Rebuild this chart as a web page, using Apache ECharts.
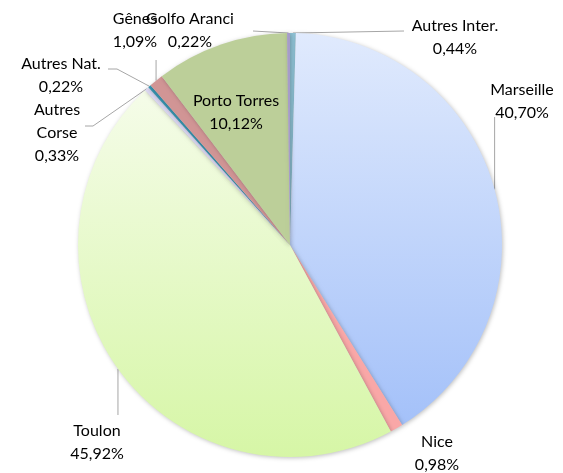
<!DOCTYPE html>
<html>
<head>
<meta charset="utf-8">
<script src="https://cdn.jsdelivr.net/npm/echarts@6/dist/echarts.min.js"></script>
<style>html,body{margin:0;padding:0;background:#fff;}#c{width:563px;height:473px;}</style>
</head>
<body>
<div id="c"></div>
<script>
const categories = ['Autres Inter.', 'Marseille', 'Nice', 'Toulon', 'Autres\nCorse', 'Autres Nat.', 'Gênes', 'Porto Torres', 'Golfo Aranci'];
const values = [0.44, 40.70, 0.98, 45.92, 0.33, 0.22, 1.09, 10.12, 0.22];
const valueLabels = ['0,44%', '40,70%', '0,98%', '45,92%', '0,33%', '0,22%', '1,09%', '10,12%', '0,22%'];

const colors = [
  '#8fc3d6',
  {type:'linear', x:0, y:0, x2:0, y2:1, colorStops:[{offset:0, color:'#e0eafd'},{offset:1, color:'#a4c1f9'}]},
  '#f9a7a7',
  {type:'linear', x:0, y:0, x2:0, y2:1, colorStops:[{offset:0, color:'#f5fce9'},{offset:1, color:'#d6f6a6'}]},
  '#dcd8f2',
  '#3894b0',
  '#d19595',
  '#bccf99',
  '#a69cc9'
];

// label centre positions (layout), by data index
const labelPosByIdx = [
  [455, 37], [522, 101], [437, 453], [97, 442], [57, 133], [61, 75], [135, 30], [236, 112], [190, 30]
];
const showLine = [true, true, false, true, true, true, true, false, true];

function linePoints(i, s) {
  switch (i) {
    case 0: return [s, [404, 31]];
    case 1: return [s, [s[0], 117]];
    case 3: return [s, [s[0], 415]];
    case 4: return [s, [93, 126], [85, 126]];
    case 5: return [s, [117, 69], [108, 69]];
    case 6: return [s, [s[0], 60]];
    case 8: return [s, [253, 31]];
  }
  return null;
}

const data = categories.map((c, i) => ({
  name: c,
  value: values[i],
  itemStyle: {color: colors[i]},
  labelLine: {show: showLine[i]}
}));

const chart = echarts.init(document.getElementById('c'), null, {renderer: 'canvas'});
chart.setOption({
  animation: false,
  series: [{
    type: 'pie',
    center: [290, 245],
    radius: 212,
    startAngle: 90,
    clockwise: true,
    avoidLabelOverlap: false,
    data: data,
    itemStyle: {
      shadowBlur: 4,
      shadowColor: 'rgba(0,0,0,0.25)',
      shadowOffsetX: 1,
      shadowOffsetY: 1
    },
    label: {
      show: true,
      position: 'outside',
      formatter: p => p.name + '\n' + valueLabels[p.dataIndex],
      fontFamily: 'Lato',
      fontSize: 16,
      lineHeight: 23,
      color: '#000',
      align: 'center',
      verticalAlign: 'middle'
    },
    labelLine: {
      show: true,
      length: 5,
      length2: 5,
      lineStyle: {color: '#a6a6a6', width: 1}
    },
    labelLayout: function (params) {
      const i = params.dataIndex;
      const res = {x: labelPosByIdx[i][0], y: labelPosByIdx[i][1], align: 'center', verticalAlign: 'middle', hideOverlap: false};
      if (params.labelLinePoints && showLine[i]) {
        const s = params.labelLinePoints[0];
        const pts = linePoints(i, [s[0], s[1]]);
        if (pts) res.labelLinePoints = pts;
      }
      return res;
    }
  }]
});
</script>
</body>
</html>
